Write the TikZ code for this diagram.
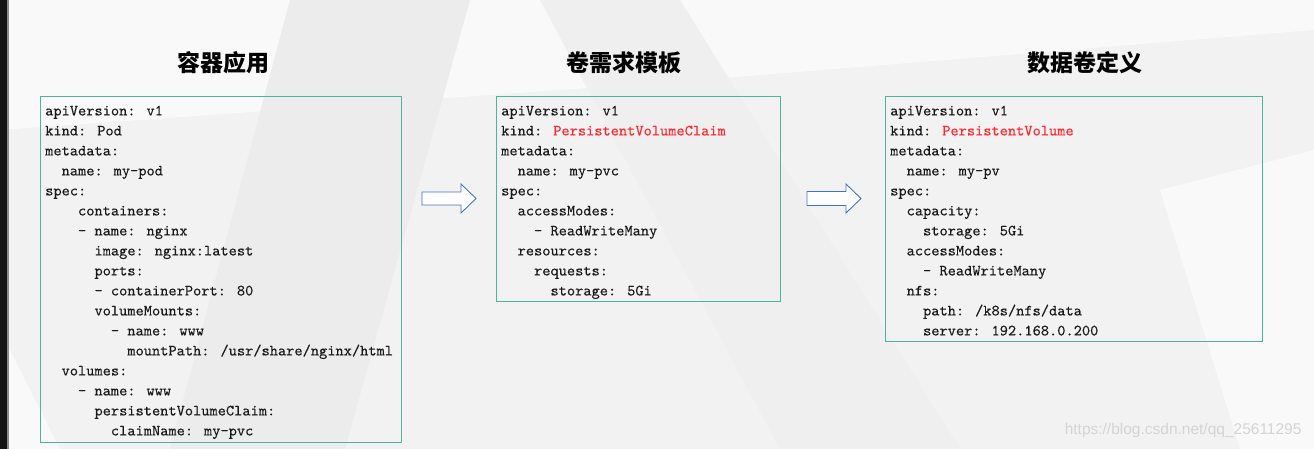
\documentclass[tikz,border=0pt]{standalone}
\usepackage{fontspec}
\newfontfamily\cjk{Noto Sans CJK SC}
\newfontfamily\wmfont{Liberation Sans}
\newfontface\codefont{lmmono10-regular.otf}[FakeBold=0.25]
\definecolor{boxteal}{RGB}{78,182,152}
\definecolor{arrowblue}{RGB}{68,114,196}
\definecolor{kindred}{RGB}{255,40,50}
\definecolor{codetext}{RGB}{25,25,25}
\definecolor{bgbase}{RGB}{242,242,242}
\definecolor{bglight}{RGB}{249,249,249}
\definecolor{bgdark}{RGB}{236,236,236}
\newcommand\ind[1]{\hspace*{#1\dimexpr0.525em\relax}}
\begin{document}
\begin{tikzpicture}[x=1pt,y=-1pt,
  codebox/.style={draw=boxteal,line width=1.1pt,anchor=north west,inner sep=0pt},
  codetxt/.style={anchor=north west,inner sep=0pt,align=left,text=codetext,
    font=\fontsize{15.65}{20}\selectfont\codefont},
  titletxt/.style={font=\fontsize{23}{26}\selectfont\cjk\bfseries,text=black},
  blockarrow/.style={draw=arrowblue,fill=white,line width=0.9pt,line join=miter}]
% background
\useasboundingbox (0,0) rectangle (1314,449);
\fill[bgbase] (0,0) rectangle (1314,449);
\fill[bglight] (0,0) -- (1314,0) -- (1314,30) -- (700,80) -- (0,130) -- cycle;
\fill[bgdark] (290,0) -- (470,0) -- (345,449) -- (170,449) -- cycle;
\fill[bgdark!50!bgbase] (540,0) -- (680,0) -- (960,449) -- (780,449) -- cycle;
\fill[bglight] (1160,190) -- (1314,150) -- (1314,449) -- (1240,449) -- cycle;
\fill[bglight] (0,330) -- (60,449) -- (0,449) -- cycle;
% left dark strip
\fill[black!92] (0,0) rectangle (7,449);
\fill[black!45] (7,0) rectangle (9,449);
% titles
\node[titletxt] (t1) at (223,63) {容器应用};
\node[titletxt] (t2) at (624,63) {卷需求模板};
\node[titletxt] (t3) at (1085,63) {数据卷定义};
% boxes
\node[codebox,minimum width=361pt,minimum height=346pt] (b1) at (40,96) {};
\node[codebox,minimum width=284pt,minimum height=205pt] (b2) at (496,96) {};
\node[codebox,minimum width=377pt,minimum height=245pt] (b3) at (885,96) {};
% code texts
\node[codetxt] (c1) at (45,105.5) {%
apiVersion: v1\\
kind: Pod\\
metadata:\\
\ind{2}name: my-pod\\
spec:\\
\ind{4}containers:\\
\ind{4}- name: nginx\\
\ind{6}image: nginx:latest\\
\ind{6}ports:\\
\ind{6}- containerPort: 80\\
\ind{6}volumeMounts:\\
\ind{8}- name: www\\
\ind{10}mountPath: /usr/share/nginx/html\\
\ind{2}volumes:\\
\ind{4}- name: www\\
\ind{6}persistentVolumeClaim:\\
\ind{8}claimName: my-pvc};
\node[codetxt] (c2) at (501,105.5) {%
apiVersion: v1\\
kind: \textcolor{kindred}{PersistentVolumeClaim}\\
metadata:\\
\ind{2}name: my-pvc\\
spec:\\
\ind{2}accessModes:\\
\ind{4}- ReadWriteMany\\
\ind{2}resources:\\
\ind{4}requests:\\
\ind{6}storage: 5Gi};
\node[codetxt] (c3) at (890,105.5) {%
apiVersion: v1\\
kind: \textcolor{kindred}{PersistentVolume}\\
metadata:\\
\ind{2}name: my-pv\\
spec:\\
\ind{2}capacity:\\
\ind{4}storage: 5Gi\\
\ind{2}accessModes:\\
\ind{4}- ReadWriteMany\\
\ind{2}nfs:\\
\ind{4}path: /k8s/nfs/data\\
\ind{4}server: 192.168.0.200};
% block arrows
\draw[blockarrow] (422,192) -- (461,192) -- (461,184) -- (476,198.5) -- (461,213) -- (461,205) -- (422,205) -- cycle;
\draw[blockarrow] (807,191.5) -- (846,191.5) -- (846,184) -- (861,198.5) -- (846,213) -- (846,205.5) -- (807,205.5) -- cycle;
% watermark
\node[font=\fontsize{15.5}{18}\selectfont\wmfont,text=black!17,anchor=east] (wm) at (1305,430) {https://blog.csdn.net/qq\_25611295};
\end{tikzpicture}
\end{document}
